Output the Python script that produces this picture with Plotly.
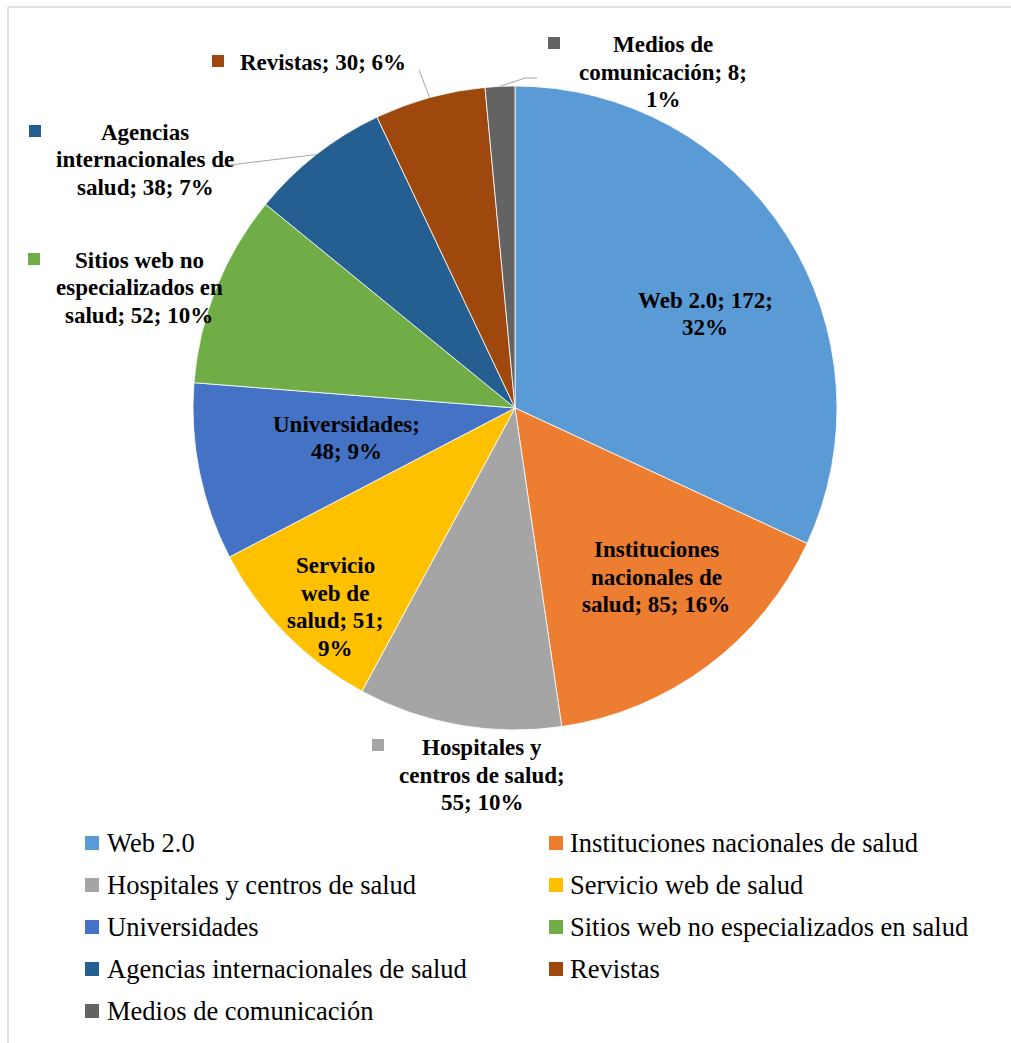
import math
import textwrap
import plotly.graph_objects as go

# Sources of health information: number of items per source type
labels = [
    "Web 2.0",
    "Instituciones nacionales de salud",
    "Hospitales y centros de salud",
    "Servicio web de salud",
    "Universidades",
    "Sitios web no especializados en salud",
    "Agencias internacionales de salud",
    "Revistas",
    "Medios de comunicación",
]
values = [172, 85, 55, 51, 48, 52, 38, 30, 8]
colors = [
    "#5B9BD5", "#ED7D31", "#A5A5A5", "#FFC000", "#4472C4",
    "#70AD47", "#255E91", "#9E480E", "#636363",
]

# ---- layout constants (pixels) ----
W, H = 1011, 1043
CX, CY, R = 515, 408, 322
SERIF = "Liberation Serif, Times New Roman, serif"
LABEL_SIZE = 23
LABEL_LINE = 27.5


def px(x):
    return x / W


def py(y):
    return 1 - y / H


# data label placement: (wrap width in chars, centre x, centre y)
label_style = [
    (13, 705, 314),
    (14, 656, 577),
    (17, 482, 775),
    (10, 335, 607),
    (14, 346, 438),
    (17, 139, 288),
    (18, 145, 160),
    (20, 323, 62),
    (16, 663, 72),
]
# legend-key squares next to outside labels (centre x, centre y)
key_pos = {2: (378, 745), 5: (34, 259), 6: (35, 131), 7: (218, 61), 8: (554, 43)}
# leader line waypoints from the label towards the slice edge
leader_pts = {6: [(213, 167)], 7: [(419, 70)], 8: [(537, 78), (525, 78)]}

total = sum(values)

fig = go.Figure(
    go.Pie(
        labels=labels,
        values=values,
        sort=False,
        direction="clockwise",
        rotation=0,
        marker=dict(colors=colors, line=dict(color="white", width=0.8)),
        textinfo="none",
        hoverinfo="label+value+percent",
        showlegend=False,
        domain=dict(x=[px(CX - R), px(CX + R)], y=[py(CY + R), py(CY - R)]),
    )
)

annotations = []
shapes = []

cum = 0
for i, (name, v) in enumerate(zip(labels, values)):
    mid = 2 * math.pi * (cum + v / 2) / total
    cum += v
    edge = (CX + R * math.sin(mid), CY - R * math.cos(mid))

    pct = round(100 * v / total)
    full = f"{name}; {v}; {pct}%"
    wrap, lx, ly = label_style[i]
    lines = textwrap.wrap(full, wrap)
    n = len(lines)
    # one annotation per line so the line spacing can be set exactly
    for k, line in enumerate(lines):
        annotations.append(
            dict(
                x=px(lx), y=py(ly + (k - (n - 1) / 2) * LABEL_LINE),
                xref="paper", yref="paper",
                text=f"<b>{line}</b>", showarrow=False,
                xanchor="center", yanchor="middle", align="center",
                font=dict(family=SERIF, size=LABEL_SIZE, color="#000000"),
            )
        )

    if i in key_pos:
        kx, ky = key_pos[i]
        shapes.append(
            dict(
                type="rect", xref="paper", yref="paper",
                x0=px(kx - 6), x1=px(kx + 6), y0=py(ky + 6), y1=py(ky - 6),
                fillcolor=colors[i], line=dict(width=0),
            )
        )

    if i in leader_pts:
        pts = leader_pts[i] + [edge]
        path = "M " + " L ".join(f"{px(x)},{py(y)}" for x, y in pts)
        shapes.append(
            dict(
                type="path", xref="paper", yref="paper", path=path,
                line=dict(color="#A6A6A6", width=1),
            )
        )

# legend in two columns below the pie
leg_key_x = [92, 556]
leg_text_x = [105, 568]
leg_y0, leg_dy = 843, 42
for i, name in enumerate(labels):
    col, row = i % 2, i // 2
    yy = leg_y0 + row * leg_dy
    kx = leg_key_x[col]
    shapes.append(
        dict(
            type="rect", xref="paper", yref="paper",
            x0=px(kx - 7), x1=px(kx + 7), y0=py(yy + 7), y1=py(yy - 7),
            fillcolor=colors[i], line=dict(width=0),
        )
    )
    annotations.append(
        dict(
            x=px(leg_text_x[col]), y=py(yy), xref="paper", yref="paper",
            text=name, showarrow=False, xanchor="left", yanchor="middle",
            font=dict(family=SERIF, size=26.5, color="#000000"),
        )
    )

# thin frame along the top and left edges
shapes.append(dict(type="line", xref="paper", yref="paper",
                   x0=px(8), x1=1, y0=py(7), y1=py(7),
                   line=dict(color="#D9D9D9", width=1.5)))
shapes.append(dict(type="line", xref="paper", yref="paper",
                   x0=px(8), x1=px(8), y0=py(7), y1=0,
                   line=dict(color="#D9D9D9", width=1.5)))

fig.update_layout(
    width=W,
    height=H,
    margin=dict(l=0, r=0, t=0, b=0),
    paper_bgcolor="white",
    plot_bgcolor="white",
    annotations=annotations,
    shapes=shapes,
)

fig.write_html("out.html")
